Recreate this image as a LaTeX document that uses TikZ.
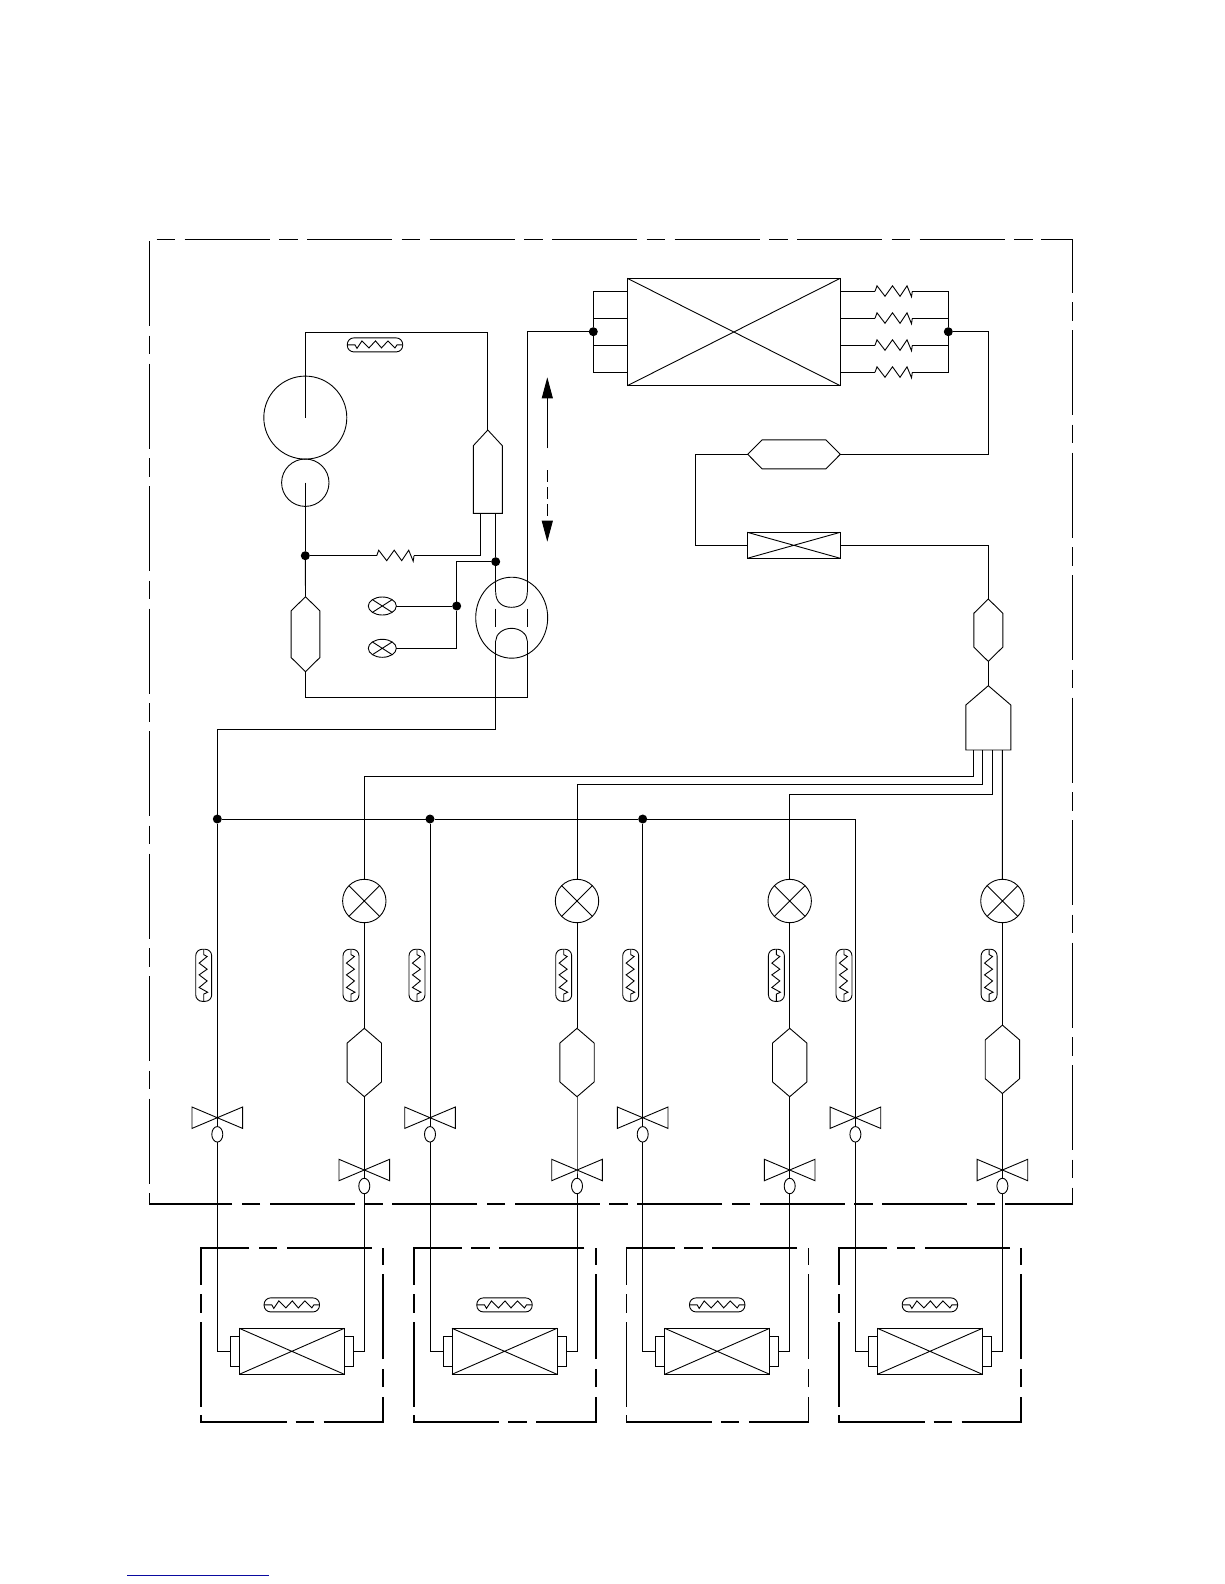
\documentclass[tikz,border=0pt]{standalone}
\usepackage{tikz}
\usetikzlibrary{arrows.meta,positioning,shapes.geometric}
\definecolor{linkblue}{RGB}{10,10,160}

\tikzset{
	pics/hexv/.style args={#1/#2/#3}{code={
		\draw (0,-#2) -- (#1,-#3) -- (#1,#3) -- (0,#2) -- (-#1,#3) -- (-#1,-#3) -- cycle;
		\coordinate (-top) at (0,-#2);
		\coordinate (-bot) at (0,#2);
	}},
	pics/penta/.style args={#1/#2/#3}{code={
		\draw (0,0) -- (#1,#2) -- (#1,#3) -- (-#1,#3) -- (-#1,#2) -- cycle;
		\coordinate (-top) at (0,0);
	}},
	pics/resist/.style={code={
		\draw (0,0) -- (2,-5.5) -- (10,5) -- (17.5,-5.5) -- (25,5) -- (32,-5.5) -- (36.5,5.5) -- (37.3,0);
		\coordinate (-in) at (0,0);
		\coordinate (-out) at (37.3,0);
	}},
	pics/heatbar/.style={code={
		\draw[rounded corners=6.5pt] (-27.7,-7) rectangle (27.7,7);
		\draw (-27.7,0) -- (-20,0) -- (-18,3.5) -- (-13,-4) -- (-6,3) -- (0.5,-4) -- (6.5,3) -- (13,-4) -- (20,3) -- (22,0) -- (27.7,0);
	}},
	pics/bowtie/.style={code={
		\draw (-25.3,-10.7) -- (25.3,10.7) -- (25.3,-10.7) -- (-25.3,10.7) -- cycle;
		\coordinate (-c) at (0,0);
	}},
	heatup/.style={rotate=90,xscale=.94,yscale=1.14},
	dot/.style={circle,fill=black,inner sep=0,outer sep=0,minimum size=9},
	box/.style={draw,rectangle,inner sep=0,outer sep=0},
	ring/.style={draw,circle,inner sep=0,outer sep=0},
	oval/.style={draw,ellipse,inner sep=0,outer sep=0},
	longdash/.style={dash pattern=on 85pt off 9.5pt on 18.5pt off 9.5pt},
}

\begin{document}
\begin{tikzpicture}[x=1pt,y=-1pt,line width=0.9pt,line join=miter,>={Triangle[length=21pt,width=11pt]}]
	\useasboundingbox (0,0) rectangle (1224,1584);

	% compressor side
	\node[ring,minimum size=83]		(comp)	at (305.3,417.6)	{};
	\node[ring,minimum size=47.4]	(motor)	at (305.3,482.7)	{};
	\node[dot]						(jdis)	at (305.3,555.7)	{};
	\node[dot]						(jway)	at (495.7,561.7)	{};
	\node[dot]						(jsen)	at (456.7,606)		{};
	\node[oval,minimum width=28,minimum height=18]	(sen1)	at (382.3,606)		{};
	\node[oval,minimum width=28,minimum height=18]	(sen2)	at (382.3,648.3)	{};
	\node[oval,minimum width=72,minimum height=81]	(way)	at (511.7,617.7)	{};
	\pic		(heatc)	at (375,344.9)		{heatbar};
	\pic		(rdis)	at (376.7,555.7)	{resist};
	\pic		(sep)	at (487.8,430)		{penta=14.5/15.7/83.3};
	\pic		(acc)	at (305.5,634.2)	{hexv=14.4/37.5/23.3};
	\coordinate	(sepL)	at (480.3,513.3);
	\coordinate	(sepR)	at (495.7,513.3);
	\coordinate	(railL)	at (305.3,332.3);
	\coordinate	(wul)	at (495.7,592);
	\coordinate	(wur)	at (527.3,592);
	\coordinate	(wll)	at (495.7,641);
	\coordinate	(wlr)	at (527.3,641);
	\coordinate	(railB)	at (527.3,697.3);
	\coordinate	(railG)	at (495.7,729.5);

	\draw (comp.center) -- (railL) -| (sep-top);
	\draw (motor.center) -- (jdis) -- (rdis-in);
	\draw (rdis-out) -| (sepL);
	\draw (jdis) -- (acc-top);
	\draw (acc-bot) |- (railB) -- (wlr);
	\draw (sepR) -- (jway) -- (wul);
	\draw (jway) -| (jsen) -- (sen1.east);
	\draw (jsen) |- (sen2.east);
	\draw (sen1.north east) -- (sen1.south west) (sen1.north west) -- (sen1.south east);
	\draw (sen2.north east) -- (sen2.south west) (sen2.north west) -- (sen2.south east);

	% four way valve inside
	\draw (wul) .. controls (495.7,603) and (503,607.3) .. (511.5,607.3) .. controls (520,607.3) and (527.3,603) .. (wur);
	\draw (wll) .. controls (495.7,634) and (503,628.3) .. (511.5,628.3) .. controls (520,628.3) and (527.3,634) .. (wlr);
	\draw (495.7,608.5) -- (495.7,627) (527.3,608.5) -- (527.3,627);

	% direction arrows
	\coordinate	(upA)	at (547.3,448.3);
	\coordinate	(upB)	at (547.3,377.3);
	\coordinate	(dnA)	at (547.3,470);
	\coordinate	(dnB)	at (547.3,541.7);
	\draw[->] (upA) -- (upB);
	\draw[->,dash pattern=on 12pt off 5pt] (dnA) -- (dnB);

	% outdoor coil
	\node[box,minimum width=213,minimum height=107.4]	(coil)	at (733.8,332)	{};
	\node[dot]	(jcoilL)	at (593.3,331.7)	{};
	\node[dot]	(jcoilR)	at (948.3,331.7)	{};
	\draw (coil.north west) -- (coil.south east) (coil.north east) -- (coil.south west);
	\draw (wur) |- (jcoilL);
	\foreach \i/\y in {1/291.3,2/318.3,3/345.3,4/372.3} {
		\pic (rc\i) at (875,\y) {resist};
		\draw (coil.west |- rc\i-in) -| (jcoilL);
		\draw (coil.east |- rc\i-in) -- (rc\i-in);
		\draw (rc\i-out) -| (jcoilR);
	}

	% receiver, sub cooler, strainer, distributor
	\pic[rotate=90]	(recv)	at (794,454.3)	{hexv=14.5/46.3/31.9};
	\node[box,minimum width=93,minimum height=26]	(cool)	at (793.8,545.3)	{};
	\pic		(hexd)	at (988.3,630.2)	{hexv=14.5/31.2/16.9};
	\pic		(dist)	at (988.3,685.7)	{penta=22.5/19.3/64.3};
	\coordinate	(bendA)	at (988.3,454.3);
	\coordinate	(bendB)	at (695.3,454.3);
	\draw (cool.north west) -- (cool.south east) (cool.north east) -- (cool.south west);
	\draw (jcoilR) -| (bendA) -- (recv-bot);
	\draw (recv-top) -- (bendB) |- (cool.west);
	\draw (cool.east) -| (hexd-top);
	\draw (hexd-bot) -- (dist-top);

	% columns
	\foreach \i/\fy/\hg in {0/0/-13.6,1/0/-13,2/0/-12,3/-3.2/-11.4} {
		\begin{scope}[xshift=\i*212.7]
			\node[ring,minimum size=43.4]	(ev\i)	at (364.3,901)	{};
			\draw (ev\i.north east) -- (ev\i.south west) (ev\i.north west) -- (ev\i.south east);
			\pic[heatup]	at (217.3+\hg,975.3)	{heatbar};
			\pic[heatup]	at (351,975.3)			{heatbar};
			\pic	(filt\i)	at (364.3,1062.5+\fy)	{hexv=17.2/34.2/19.4};
			\pic	(gv\i)		at (217.3,1117.7)	{bowtie};
			\pic	(lv\i)		at (364.3,1170)		{bowtie};
			\node[oval,minimum width=11,minimum height=15.5]	(gr\i)	at (217.3,1134.3)	{};
			\node[oval,minimum width=11,minimum height=15.5]	(lr\i)	at (364.3,1186)		{};

			% indoor unit
			\node[box,minimum width=105,minimum height=46]	(ic\i)	at (291.8,1351.3)	{};
			\node[box,minimum width=9,minimum height=29.4,left=0pt of ic\i]		(isl\i)	{};
			\node[box,minimum width=9,minimum height=29.4,right=0pt of ic\i]	(isr\i)	{};
			\draw (ic\i.north west) -- (ic\i.south east) (ic\i.north east) -- (ic\i.south west);
			\pic	at (291.8,1304.9)	{heatbar};

			\draw (ev\i.south) -- (filt\i-top);
			\draw (filt\i-bot) -- (lv\i-c) -- (lr\i);
			\draw (gv\i-c) -- (gr\i);
			\draw (gr\i) |- (isl\i.west);
			\draw (lr\i) |- (isr\i.east);

			\draw[line width=1.6pt,longdash] (371.7,1247.7) -- (201,1247.7) -- (201,1415);
			\draw[line width=1.6pt] (201,1415) -- (201,1422) -- (286.5,1422);
			\draw[line width=1.6pt,longdash,dash phase=94.5pt] (295.5,1422) -- (383,1422) -- (383,1247.7);
		\end{scope}
	}

	% liquid rails
	\coordinate	(out0)	at (973.3,750);
	\coordinate	(out1)	at (982.3,750);
	\coordinate	(out2)	at (992.3,750);
	\coordinate	(out3)	at (1002.3,750);
	\coordinate	(rl0)	at (364.3,776.3);
	\coordinate	(rl1)	at (577,784.3);
	\coordinate	(rl2)	at (789.7,794.3);
	\draw (ev0.north) -- (rl0) -| (out0);
	\draw (ev1.north) -- (rl1) -| (out1);
	\draw (ev2.north) -- (rl2) -| (out2);
	\draw (ev3.north) -- (out3);

	% gas header
	\node[dot]	(j0)	at (217.3,819)	{};
	\node[dot]	(j1)	at (430,819)	{};
	\node[dot]	(j2)	at (642.7,819)	{};
	\coordinate	(j3)	at (855.4,819);
	\draw (wll) -- (railG) -| (j0);
	\draw (j0) -- (j1) -- (j2) -- (j3);
	\foreach \i in {0,...,3} {
		\draw (j\i) -- (gv\i-c);
	}

	% outdoor unit border
	\draw[line width=1.1pt,longdash,dash phase=94.5pt] (156.7,239.3) -- (1072.5,239.3);
	\draw[line width=1.1pt,longdash] (1041,239.3) -- (1072.5,239.3) -- (1072.5,320.8);
	\draw[line width=1.1pt,longdash] (149.3,241) -- (149.3,1203.8);
	\draw[line width=1.1pt,longdash] (1072.5,330) -- (1072.5,1203.8);
	\draw[line width=2.2pt,longdash,dash phase=16.5pt] (1073,1203.8) -- (148.8,1203.8);

	% underline at page foot
	\coordinate	(linkA)	at (127,1575);
	\coordinate	(linkB)	at (269,1575);
	\draw[linkblue,line width=1pt] (linkA) -- (linkB);
\end{tikzpicture}
\end{document}
